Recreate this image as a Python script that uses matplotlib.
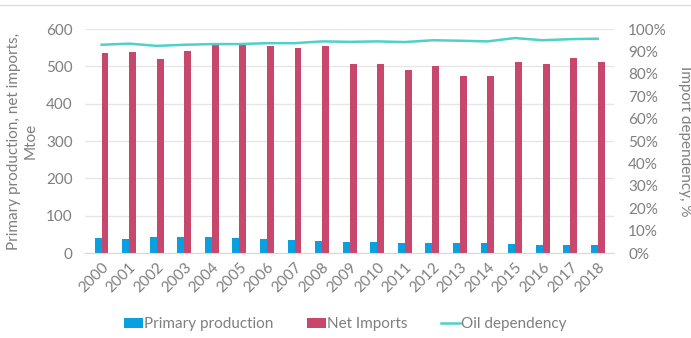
import numpy as np
import matplotlib.pyplot as plt
from matplotlib.ticker import PercentFormatter

years = [str(y) for y in range(2000, 2019)]
primary = [40, 38, 42, 42, 42, 40, 37, 36, 33, 31, 29, 28, 27, 27, 26, 25, 22, 22, 21]
net_imports = [535, 538, 520, 542, 557, 557, 555, 548, 554, 507, 507, 490, 500, 475, 475, 512, 507, 522, 512]
dependency = [0.93, 0.935, 0.925, 0.93, 0.933, 0.933, 0.937, 0.937, 0.945, 0.943,
              0.945, 0.942, 0.95, 0.948, 0.945, 0.96, 0.95, 0.955, 0.957]

plt.rcParams['font.family'] = ['Lato', 'DejaVu Sans']
grey = '#7f7f7f'
blue = '#0aa0e0'
pink = '#c8476d'
teal = '#4fd0c8'
fs = 11

fig = plt.figure(figsize=(6.91, 3.38), dpi=100)
ax = fig.add_axes([0.123, 0.251, 0.766, 0.663])
ax2 = ax.twinx()

x = np.arange(len(years))
w = 0.25
ax.bar(x - w / 2, primary, w, color=blue, label='Primary production')
ax.bar(x + w / 2, net_imports, w, color=pink, label='Net Imports')
ax2.plot(x, dependency, color=teal, lw=1.8, label='Oil dependency')

ax.set_xlim(-0.6, len(years) - 0.4)
ax.set_ylim(0, 600)
ax.set_yticks(range(0, 601, 100))
ax2.set_ylim(0, 1)
ax2.set_yticks(np.arange(0, 1.01, 0.1))
ax2.yaxis.set_major_formatter(PercentFormatter(1.0, decimals=0))

ax.set_xticks(x)
ax.set_xticklabels(years, rotation=45, ha='right', rotation_mode='anchor')
ax.grid(axis='y', color='#e6e6e6', lw=1)
ax.set_axisbelow(True)

for a in (ax, ax2):
    for s in a.spines.values():
        s.set_visible(False)
    a.tick_params(length=0, colors=grey, labelsize=fs)
ax.tick_params(axis='y', pad=9)
ax2.tick_params(axis='y', pad=10)
ax.tick_params(axis='x', pad=5)
ax.spines['bottom'].set_visible(True)
ax.spines['bottom'].set_color('#d9d9d9')

ax.set_ylabel('Primary production, net imports,\nMtoe', color=grey, fontsize=fs, labelpad=6)
ax2.set_ylabel('Import dependency, %', color=grey, fontsize=fs, rotation=270, labelpad=18)

h1, l1 = ax.get_legend_handles_labels()
h2, l2 = ax2.get_legend_handles_labels()
fig.legend(h1 + h2, l1 + l2, loc='center', bbox_to_anchor=(0.5, 0.04), ncol=3,
           frameon=False, fontsize=fs, labelcolor=grey, handlelength=1.2,
           handletextpad=0.1, columnspacing=2.2)

fig.add_artist(plt.Line2D([0, 1], [0.985, 0.985], color='#e0e0e0', lw=1))

fig.savefig('out.png', dpi=100)
